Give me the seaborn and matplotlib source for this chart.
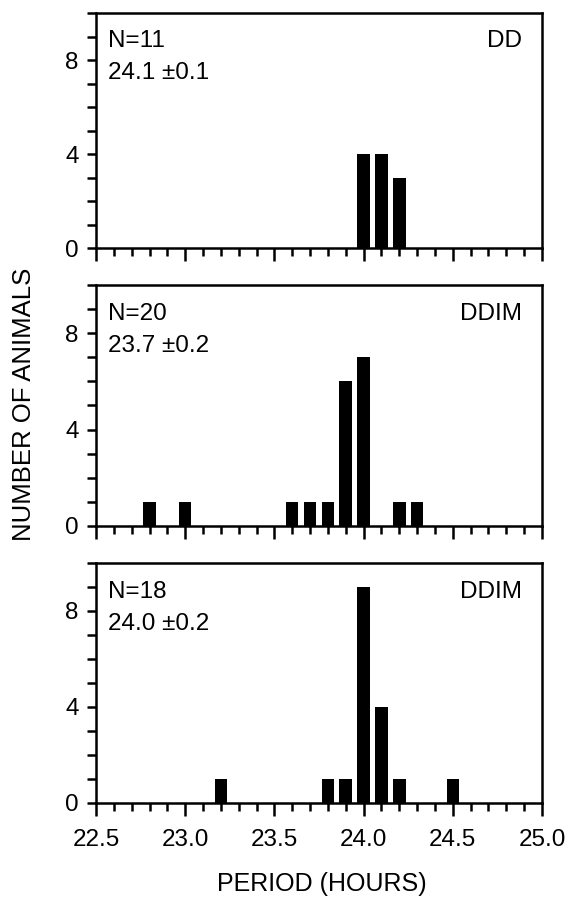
import matplotlib
matplotlib.use("Agg")
import matplotlib.pyplot as plt
import seaborn as sns
import pandas as pd
from matplotlib.ticker import MultipleLocator

# ---- data ----
dd_period = [24.0, 24.1, 24.2]
dd_count = [4, 4, 3]

ddim1_period = [22.8, 23.0, 23.6, 23.7, 23.8, 23.9, 24.0, 24.2, 24.3]
ddim1_count = [1, 1, 1, 1, 1, 6, 7, 1, 1]

ddim2_period = [23.2, 23.8, 23.9, 24.0, 24.1, 24.2, 24.5]
ddim2_count = [1, 1, 1, 9, 4, 1, 1]

n_labels = ["N=11", "N=20", "N=18"]
mean_labels = ["24.1 \u00b10.1", "23.7 \u00b10.2", "24.0 \u00b10.2"]
cond_labels = ["DD", "DDIM", "DDIM"]

x_ticks = [22.5, 23.0, 23.5, 24.0, 24.5, 25.0]
y_ticks = [0, 4, 8]

sns.set_style("ticks")
plt.rcParams['font.family'] = ['Liberation Sans', 'DejaVu Sans']
plt.rcParams['text.color'] = 'black'
plt.rcParams['axes.labelcolor'] = 'black'
plt.rcParams['xtick.color'] = 'black'
plt.rcParams['ytick.color'] = 'black'
plt.rcParams['xtick.labelcolor'] = 'black'
plt.rcParams['ytick.labelcolor'] = 'black'

fig = plt.figure(figsize=(5.69, 8.98), dpi=100)
left, width = 0.1687, 0.7838
boxes = [(0.7238, 0.2617), (0.4143, 0.2684), (0.1058, 0.2673)]

panels = [(dd_period, dd_count), (ddim1_period, ddim1_count), (ddim2_period, ddim2_count)]

FS = 17.5

for i, ((per, cnt), (bot, h)) in enumerate(zip(panels, boxes)):
    ax = fig.add_axes([left, bot, width, h])
    df = pd.DataFrame({"period": per, "count": cnt})
    sns.barplot(data=df, x="period", y="count", native_scale=True, width=0.7,
                color="black", saturation=1, edgecolor="none", linewidth=0, ax=ax)
    ax.set_xlim(22.5, 25.0)
    ax.set_ylim(0, 10)
    ax.set_xticks(x_ticks)
    ax.xaxis.set_minor_locator(MultipleLocator(0.1))
    ax.set_yticks(y_ticks)
    ax.yaxis.set_minor_locator(MultipleLocator(1))
    ax.tick_params(axis='x', which='major', length=9.5, width=1.8, direction='out',
                   labelsize=FS, pad=9, color='black', labelcolor='black')
    ax.tick_params(axis='x', which='minor', length=5.5, width=1.8, direction='out', color='black')
    ax.tick_params(axis='y', which='both', length=6.5, width=1.8, direction='out',
                   labelsize=FS, pad=6, color='black', labelcolor='black')
    for s in ax.spines.values():
        s.set_visible(True)
        s.set_linewidth(1.8)
        s.set_color('black')
    ax.set_xlabel("")
    ax.set_ylabel("")
    if i < 2:
        ax.set_xticklabels([])
    else:
        ax.set_xticklabels([f"{t:.1f}" for t in x_ticks])
    ax.text(0.027, 0.855, n_labels[i], transform=ax.transAxes, fontsize=FS,
            ha='left', va='baseline', color='black')
    ax.text(0.027, 0.72, mean_labels[i], transform=ax.transAxes, fontsize=FS,
            ha='left', va='baseline', color='black')
    ax.text(0.955, 0.855, cond_labels[i], transform=ax.transAxes, fontsize=FS,
            ha='right', va='baseline', color='black')

fig.text(0.042, 0.55, "NUMBER OF ANIMALS", rotation=90, fontsize=18.5,
         ha='center', va='center', color='black')
fig.text(0.566, 0.008, "PERIOD (HOURS)", fontsize=18, ha='center', va='baseline',
         color='black')

fig.savefig("out.png", dpi=100)
